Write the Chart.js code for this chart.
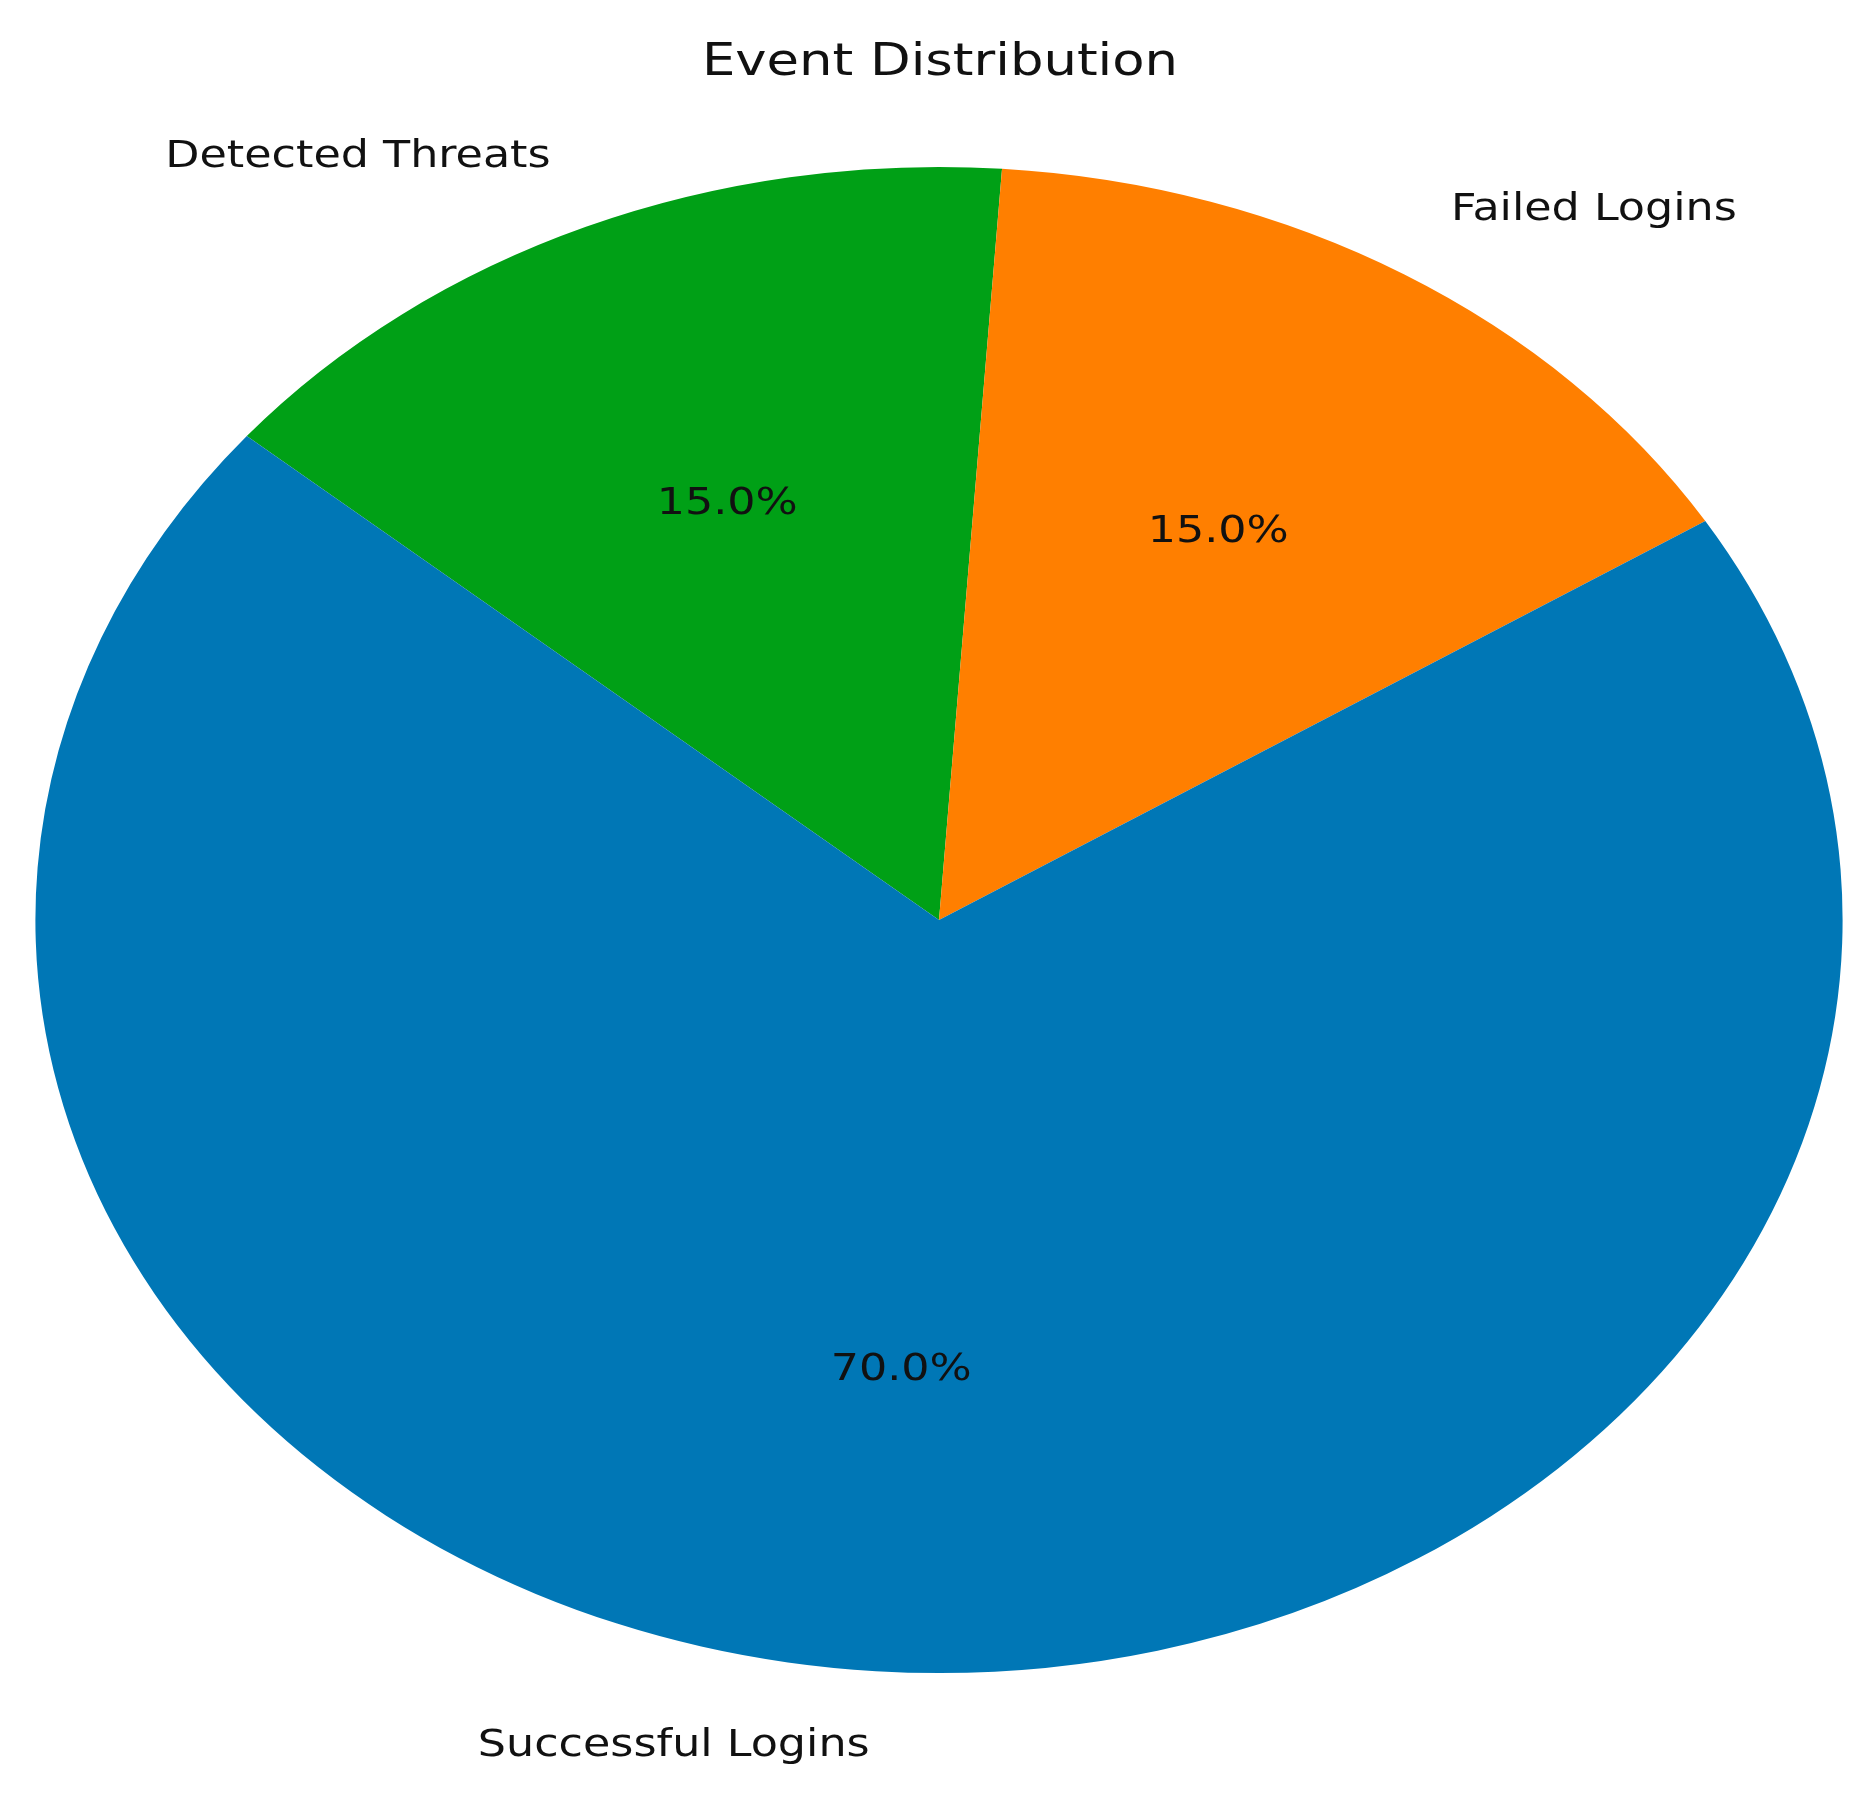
<!DOCTYPE html>
<html>
<head>
<meta charset="utf-8">
<script src="https://cdn.jsdelivr.net/npm/chart.js@4.4.1/dist/chart.umd.min.js"></script>
<style>
  html, body { margin: 0; padding: 0; background: #ffffff; }
  #wrap { width: 1868px; height: 1807px; position: relative; }
</style>
</head>
<body>
<div id="wrap"><canvas id="c" width="1868" height="1807"></canvas></div>
<script>
// Data (drawn clockwise starting from the top-left wedge)
const categories = ['Detected Threats', 'Failed Logins', 'Successful Logins'];
const values = [15, 15, 70];
const colors = ['#00A016', '#FF7F00', '#0077B6'];
const titleText = 'Event Distribution';

const SX = 1.2; // horizontal stretch of the original image

const stretchPlugin = {
  id: 'stretch',
  beforeDatasetsDraw(chart) {
    chart.ctx.save();
    chart.ctx.scale(SX, 1);
  },
  afterDatasetsDraw(chart) {
    chart.ctx.restore();
    const ctx = chart.ctx;
    const meta = chart.getDatasetMeta(0);
    const total = values.reduce((a, b) => a + b, 0);
    ctx.save();
    ctx.scale(SX, 1);
    ctx.fillStyle = '#111111';
    ctx.font = '37px "DejaVu Sans"';
    meta.data.forEach((arc, i) => {
      const mid = (arc.startAngle + arc.endAngle) / 2;
      const r = arc.outerRadius;
      const c = Math.cos(mid), s = Math.sin(mid);
      // category label
      ctx.textAlign = c > 0 ? 'left' : 'right';
      ctx.textBaseline = 'middle';
      ctx.fillText(categories[i], arc.x + c * r * 1.1, arc.y + s * r * 1.1);
      // percent label
      ctx.textAlign = 'center';
      ctx.fillText((values[i] / total * 100).toFixed(1) + '%', arc.x + c * r * 0.6, arc.y + s * r * 0.6);
    });
    // title
    ctx.font = '44px "DejaVu Sans"';
    ctx.textAlign = 'center';
    ctx.textBaseline = 'alphabetic';
    ctx.fillText(titleText, 940 / SX, 75);
    ctx.restore();
  }
};

new Chart(document.getElementById('c'), {
  type: 'pie',
  data: {
    labels: categories,
    datasets: [{
      data: values,
      backgroundColor: colors,
      borderWidth: 0,
      clip: false
    }]
  },
  options: {
    responsive: false,
    animation: false,
    rotation: -50,
    layout: { padding: { left: 29.5, right: 332.5, top: 167, bottom: 134 } },
    plugins: {
      legend: { display: false },
      title: { display: false },
      tooltip: { enabled: false }
    },
    events: []
  },
  plugins: [stretchPlugin]
});
</script>
</body>
</html>
